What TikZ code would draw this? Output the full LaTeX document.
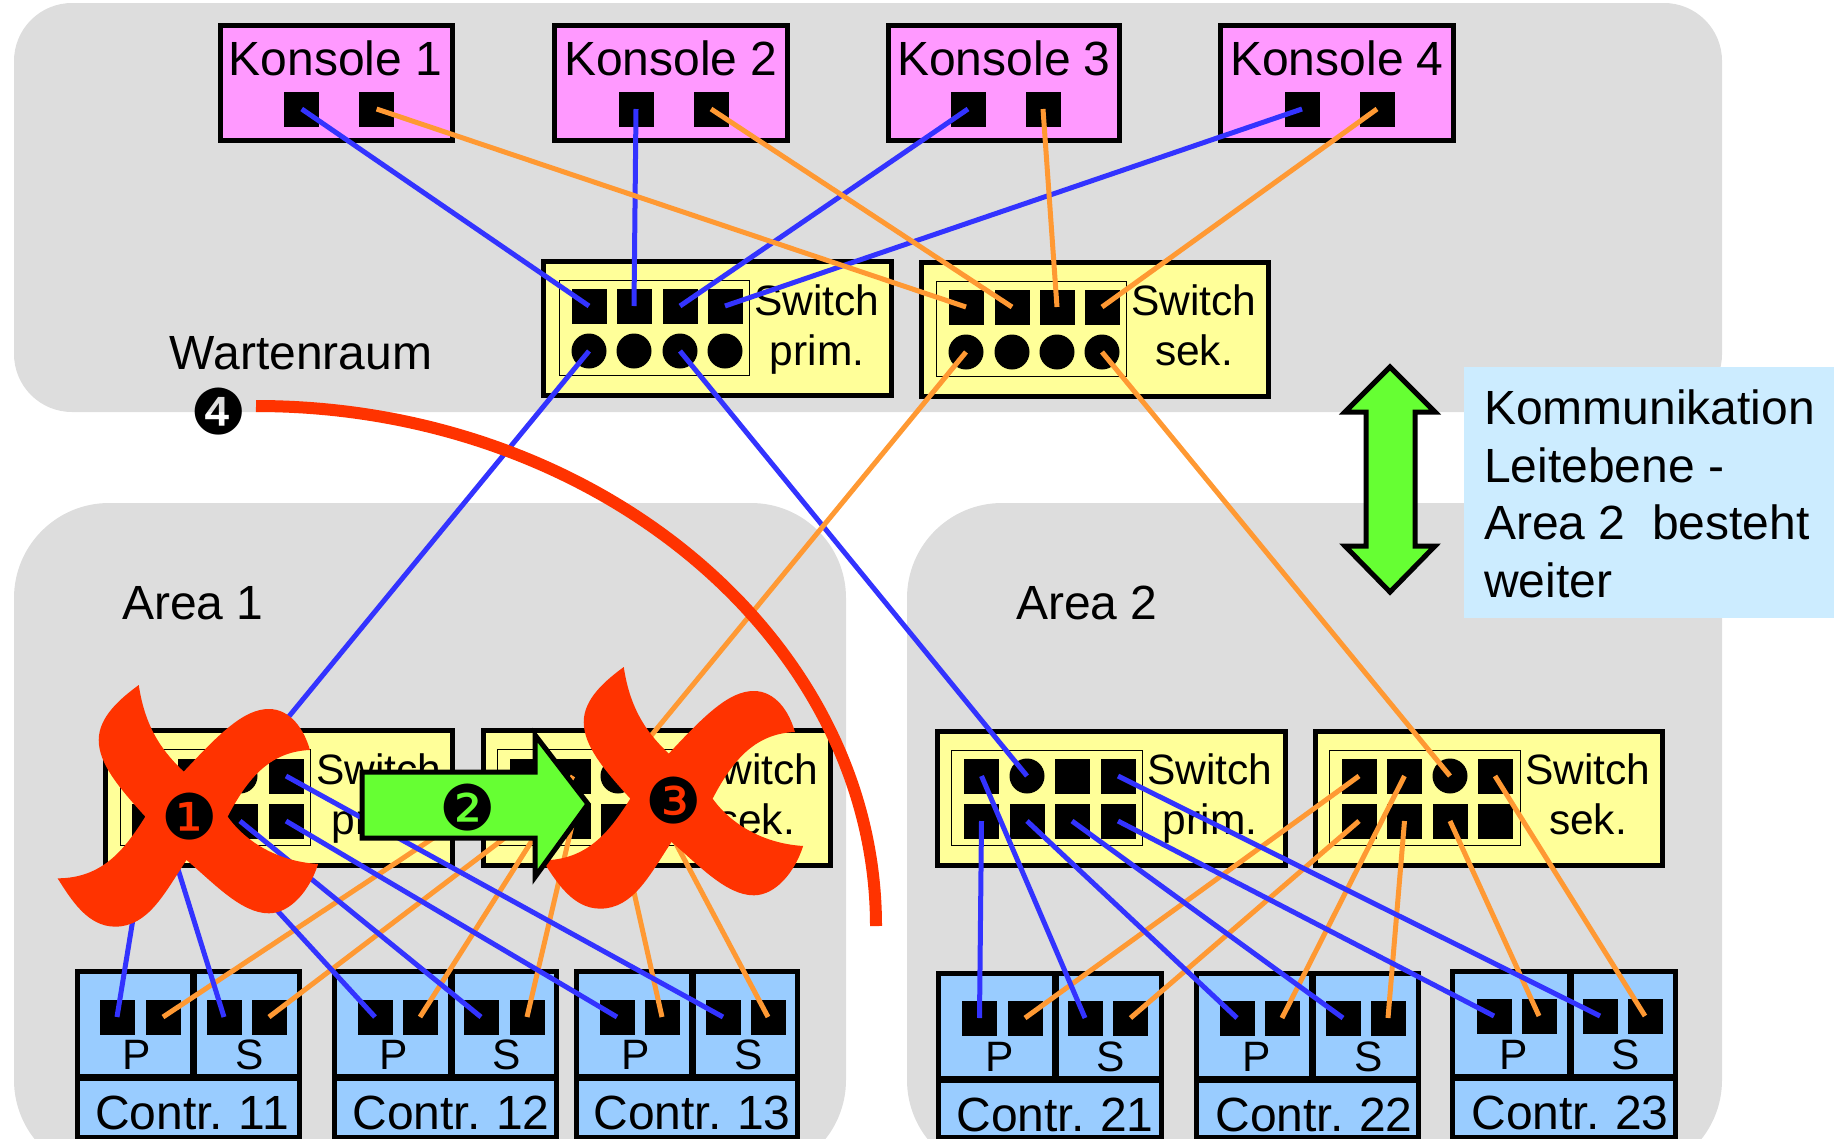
\documentclass[tikz,border=0pt]{standalone}
\usepackage{fontspec}
\setmainfont{Liberation Sans}
\newfontfamily\dingf{DejaVu Sans}
\definecolor{bggray}{HTML}{DDDDDD}
\definecolor{konspink}{HTML}{FF99FF}
\definecolor{swyellow}{HTML}{FFFF99}
\definecolor{ctrblue}{HTML}{99CCFF}
\definecolor{infoblue}{HTML}{CCECFF}
\definecolor{arrgreen}{HTML}{66FF33}
\definecolor{crossred}{HTML}{FF3300}
\definecolor{linkblue}{HTML}{3333FF}
\definecolor{linkorange}{HTML}{FF9933}
\tikzset{
  tbig/.style={font=\fontsize{48}{50}\selectfont,text height=34.4pt,text depth=0pt,inner sep=0pt,outer sep=0pt,yshift=1pt},
  tsw/.style={font=\fontsize{42.5}{46}\selectfont,text height=30.4pt,text depth=0pt,inner sep=0pt,outer sep=0pt},
  sqport/.style={fill=black,minimum width=35pt,minimum height=35pt,inner sep=0pt,outer sep=0pt},
  ciport/.style={circle,fill=black,minimum size=35pt,inner sep=0pt,outer sep=0pt},
  thick box/.style={draw=black,line width=5pt,inner sep=0pt,outer sep=0pt},
  konsbox/.style={thick box,fill=konspink},
  swbox/.style={thick box,fill=swyellow},
  ctrbox/.style={thick box,fill=ctrblue},
  innerbox/.style={draw=black,line width=1pt,inner sep=0pt,outer sep=0pt},
  blueln/.style={draw=linkblue,line width=5pt},
  orangeln/.style={draw=linkorange,line width=5pt},
  grearrow/.style={fill=arrgreen,draw=black,line width=5pt,miter limit=10},
  redcross/.style={fill=crossred},
  numb/.style={font=\dingf\fontsize{63}{66}\selectfont,inner sep=0pt,outer sep=0pt},
  areabg/.style={fill=bggray},
}
\newcommand\boxn[7][1]{%
  \pgfmathsetmacro\bxcx{(#4+#6)/2}\pgfmathsetmacro\bxcy{(#5+#7)/2}%
  \pgfmathsetmacro\bxw{#6-#4-2*#1}\pgfmathsetmacro\bxh{#7-#5-2*#1}%
  \node[#3,minimum width=\bxw pt,minimum height=\bxh pt] (#2) at (\bxcx,\bxcy) {};}
\newcommand\portrow[4]{%
  \foreach \px [count=\pi] in {#3} {%
    \ifnum#4=9\relax \node[ciport] (#1\pi) at (\px,#2) {};%
    \else\ifnum#4=\pi\relax \node[ciport] (#1\pi) at (\px,#2) {};%
    \else \node[sqport] (#1\pi) at (\px,#2) {};\fi\fi}}
\newcommand\ctrl[9]{%
  \boxn{#1p}{ctrbox}{#2}{#5}{#3}{#6}%
  \boxn{#1s}{ctrbox}{#3}{#5}{#4}{#6}%
  \boxn{#1n}{ctrbox}{#2}{#6}{#4}{1138}%
  \node[tbig] (#1t) at (#9,#7) {Contr.\hspace{-2pt} #8};}
\begin{document}
\begin{tikzpicture}[x=1pt,y=-1pt]
\useasboundingbox (0,0) rectangle (1834,1138);
\clip (0,0) rectangle (1834,1138);
\path[areabg,rounded corners=58pt] (14,3) rectangle (1722,412);
\path[areabg,rounded corners=95pt] (14,503) rectangle (846,1175);
\path[areabg,rounded corners=95pt] (907,503) rectangle (1722,1175);
\path[fill=infoblue] (1464,367) rectangle (1834,618);
\boxn{kb1}{konsbox}{219}{24}{453}{141}
\boxn{kb2}{konsbox}{553}{24}{788}{141}
\boxn{kb3}{konsbox}{887}{24}{1120}{141}
\boxn{kb4}{konsbox}{1219}{24}{1454}{141}
\node[tbig] (kt1) at (335.5,59) {Konsole 1};
\node[tbig] (kt2) at (671,59) {Konsole 2};
\node[tbig] (kt3) at (1004,59) {Konsole 3};
\node[tbig] (kt4) at (1337,59) {Konsole 4};
\portrow{ka}{109}{301.7,636,968,1302}{0}
\portrow{kb}{109}{376.6,711,1043,1377}{0}
\boxn{swpt}{swbox}{542}{260}{892}{396}
\boxn{swst}{swbox}{920}{261}{1269}{397}
\boxn{swp1}{swbox}{104}{729}{453}{866}
\boxn{sws1}{swbox}{482}{729}{831}{866}
\boxn{swp2}{swbox}{936}{730}{1286}{866}
\boxn{sws2}{swbox}{1314}{730}{1663}{866}
\boxn[0]{ipt}{innerbox}{559}{280}{749}{375}
\boxn[0]{ist}{innerbox}{936}{281}{1126.5}{376}
\boxn[0]{ip1}{innerbox}{120}{749}{310}{845}
\boxn[0]{is1}{innerbox}{497.5}{749}{688}{845}
\boxn[0]{ip2}{innerbox}{951}{750}{1142}{845}
\boxn[0]{is2}{innerbox}{1329}{750}{1520}{845}
\portrow{pa}{306}{589,634,680,725}{0}
\portrow{pc}{351}{589,634,680,725}{9}
\portrow{sa}{307}{966,1012,1057,1102}{0}
\portrow{sc}{352}{966,1012,1057,1102}{9}
\portrow{apt}{776}{149,195,240,286}{3}
\portrow{apb}{821}{149,195,240,286}{0}
\portrow{ast}{776}{527,573,618,664}{3}
\portrow{asb}{821}{527,573,618,664}{0}
\portrow{bpt}{776}{981.5,1027,1072,1118}{2}
\portrow{bpb}{821}{981.5,1027,1072,1118}{0}
\portrow{bst}{776}{1359,1404.5,1450,1495}{3}
\portrow{bsb}{821}{1359,1404.5,1450,1495}{0}
\node[tsw] (tpt1) at (817,300) {Switch};
\node[tsw] (tpt2) at (817,350) {prim.};
\node[tsw] (tst1) at (1194,300) {Switch};
\node[tsw] (tst2) at (1194,350) {sek.};
\node[tsw] (tp11) at (379,769) {Switch};
\node[tsw] (tp12) at (379,819) {prim.};
\node[tsw] (ts11) at (756,769) {Switch};
\node[tsw] (ts12) at (756,819) {sek.};
\node[tsw] (tp21) at (1210,769) {Switch};
\node[tsw] (tp22) at (1210,819) {prim.};
\node[tsw] (ts21) at (1588,769) {Switch};
\node[tsw] (ts22) at (1588,819) {sek.};
\ctrl{c11}{76}{193}{300}{970}{1077}{1113}{11}{192}
\ctrl{c12}{333.5}{451}{557}{970}{1077}{1113}{12}{451}
\ctrl{c13}{575}{692}{798}{970}{1077}{1113}{13}{692}
\ctrl{c21}{937}{1055}{1162}{972}{1079}{1115}{21}{1055}
\ctrl{c22}{1195}{1312}{1419}{972}{1079}{1115}{22}{1314}
\ctrl{c23}{1451}{1570}{1676}{970}{1077}{1113}{23}{1570}
\portrow{q1}{1017}{117,163,224,269}{0}
\portrow{q2}{1017}{375,420,481,527}{0}
\portrow{q3}{1017}{617,662,723,768}{0}
\portrow{r1}{1018}{979.5,1025,1085,1130.5}{0}
\portrow{r2}{1018}{1237,1282,1343,1388}{0}
\portrow{r3}{1016}{1494,1539,1600,1645}{0}
\foreach \nm/\tx/\xx/\yy in {lp1/P/137/1054,ls1/S/250/1054,lp2/P/394/1054,ls2/S/507/1054,lp3/P/636/1054,ls3/S/749/1054,
  lp4/P/1000/1056,ls4/S/1111/1056,lp5/P/1256.5/1056,ls5/S/1369/1056,lp6/P/1514/1054,ls6/S/1626/1054}
  {\node[tsw] (\nm) at (\xx,\yy) {\tx};}
\node[tbig] (warte) at (301,353) {Wartenraum};
\node[tbig] (area1) at (193,603) {Area 1};
\node[tbig] (area2) at (1087,603) {Area 2};
\node[tbig,anchor=west] (inf1) at (1484,408) {Kommunikation};
\node[tbig,anchor=west] (inf2) at (1484,466) {Leitebene -};
\node[tbig,anchor=west] (inf3) at (1484,523) {Area 2\ \ besteht};
\node[tbig,anchor=west] (inf4) at (1484,581) {weiter};
\foreach \i in {1,2,3,4} {\draw[blueln] (ka\i.center) -- (pa\i.center);}
\foreach \i in {1,2,3,4} {\draw[orangeln] (kb\i.center) -- (sa\i.center);}
\draw[blueln] (pc1.center) -- (apt3.center);
\draw[blueln] (pc3.center) -- (bpt2.center);
\draw[orangeln] (sc1.center) -- (ast3.center);
\draw[orangeln] (sc4.center) -- (bst3.center);
\foreach \sw/\qa/\qb/\qc/\lastp in {as/q1/q2/q3/asb4,bs/r1/r2/r3/bst4} {
  \draw[orangeln] (\sw t1.center) -- (\qa2.center);
  \draw[orangeln] (\sw b1.center) -- (\qa4.center);
  \draw[orangeln] (\sw t2.center) -- (\qb2.center);
  \draw[orangeln] (\sw b2.center) -- (\qb4.center);
  \draw[orangeln] (\sw b3.center) -- (\qc2.center);
  \draw[orangeln] (\lastp.center) -- (\qc4.center);
}
\foreach \sw/\qa/\qb/\qc in {ap/q1/q2/q3,bp/r1/r2/r3} {
  \draw[blueln] (\sw b1.center) -- (\qa1.center);
  \draw[blueln] (\sw t1.center) -- (\qa3.center);
  \draw[blueln] (\sw b2.center) -- (\qb1.center);
  \draw[blueln] (\sw b3.center) -- (\qb3.center);
  \draw[blueln] (\sw b4.center) -- (\qc1.center);
  \draw[blueln] (\sw t4.center) -- (\qc3.center);
}
\coordinate (arcs) at (256,406);
\coordinate (arce) at (876,926);
\draw[crossred,line width=12pt] (arcs) .. controls (597,406) and (876,640) .. (arce);
\foreach \sx/\sy in {0/640,485/622} {
\begin{scope}[shift={(\sx,\sy)},xscale=0.5485,yscale=0.3333]
\path[redcross] (253,135) .. controls (265,270) and (300,340) .. (335,395)
  .. controls (400,280) and (445,207) .. (490,207)
  .. controls (530,207) and (555,270) .. (565,330)
  .. controls (490,335) and (450,420) .. (415,530)
  .. controls (450,610) and (510,665) .. (580,672)
  .. controls (565,750) and (530,820) .. (490,820)
  .. controls (440,820) and (390,730) .. (340,660)
  .. controls (300,760) and (270,860) .. (210,860)
  .. controls (160,860) and (130,780) .. (105,715)
  .. controls (190,715) and (230,620) .. (265,530)
  .. controls (215,440) and (180,370) .. (180,300)
  .. controls (180,230) and (220,175) .. (253,135) -- cycle;
\end{scope}}
\path[grearrow] (362,772) -- (535,772) -- (535,735) -- (588,804) -- (535,877) -- (535,838) -- (362,838) -- cycle;
\path[grearrow] (1390,367) -- (1435,412) -- (1415,412) -- (1415,546) -- (1435,546) -- (1390,592) -- (1345,546) -- (1366,546) -- (1366,412) -- (1345,412) -- cycle;
\node[numb] (n1) at (190,817) {❶};
\node[numb] (n2) at (468,808) {❷};
\node[numb] (n3) at (674,801) {❸};
\node[numb] (n4) at (219,412) {❹};
\end{tikzpicture}
\end{document}
